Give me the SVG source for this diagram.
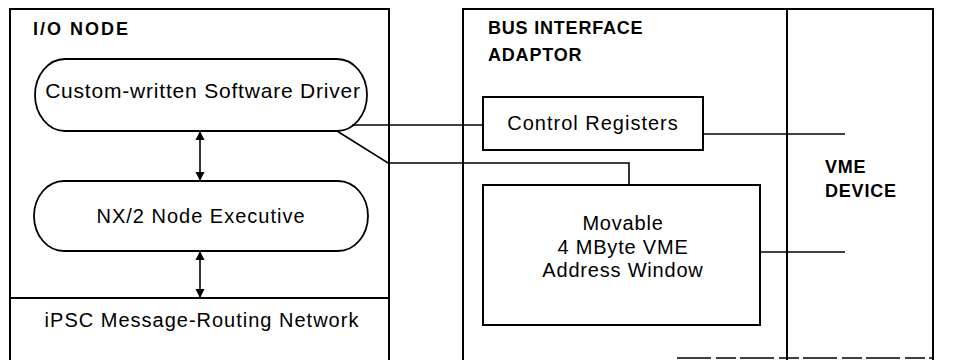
<svg xmlns="http://www.w3.org/2000/svg" width="959" height="360" viewBox="0 0 959 360">
<defs>
<marker id="ah" viewBox="0 0 10 10" refX="10" refY="5" markerWidth="9" markerHeight="10" markerUnits="userSpaceOnUse" orient="auto-start-reverse">
<path d="M0,0 L10,5 L0,10 z" fill="#000"/>
</marker>
<style>
.box{fill:none;stroke:#000;stroke-width:2}
.pill{fill:#fff;stroke:#000;stroke-width:1.8}
.ln{fill:none;stroke:#000;stroke-width:1.6}
.t{font-family:"Liberation Sans",Arial,sans-serif;font-size:20px;letter-spacing:1px;fill:#000;text-anchor:middle}
.h{font-family:"Liberation Sans",Arial,sans-serif;font-size:18px;font-weight:bold;letter-spacing:0.8px;fill:#000}
</style>
</defs>
<rect width="959" height="360" fill="#fff"/>
<g id="io-node">
<path class="box" d="M10,362 V9 H389 V362"/>
<text class="h" x="33" y="35" style="letter-spacing:2px">I/O NODE</text>
</g>
<g id="network">
<line class="box" x1="10" y1="298" x2="389" y2="298"/>
<text class="t" x="202" y="327">iPSC Message-Routing Network</text>
</g>
<g id="driver">
<rect class="pill" x="35" y="59" width="332" height="72" rx="30" ry="36"/>
<text class="t" x="203" y="98" style="font-size:21px;letter-spacing:0.8px">Custom-written Software Driver</text>
</g>
<g id="executive">
<rect class="pill" x="34" y="181" width="334" height="70" rx="30" ry="35"/>
<text class="t" x="201" y="223">NX/2 Node Executive</text>
</g>
<g id="bia">
<path class="box" d="M463,362 V9 H933 V362"/>
<text class="h" x="488" y="34">BUS INTERFACE</text>
<text class="h" x="488" y="61">ADAPTOR</text>
<path d="M677,358 H933" fill="none" stroke="#000" stroke-width="1.5" stroke-dasharray="34 5 20 4"/>
</g>
<g id="vme-device">
<line class="box" x1="787" y1="9" x2="787" y2="362"/>
<text class="h" x="825" y="173">VME</text>
<text class="h" x="825" y="197">DEVICE</text>
</g>
<g id="control-registers">
<rect class="box" x="483" y="97" width="220" height="53"/>
<text class="t" x="593" y="130">Control Registers</text>
</g>
<g id="address-window">
<rect class="box" x="483" y="185" width="277" height="140"/>
<text class="t" x="623" y="230" style="letter-spacing:0.8px">Movable</text>
<text class="t" x="623" y="254" style="letter-spacing:0.8px">4 MByte VME</text>
<text class="t" x="623" y="277" style="letter-spacing:0.8px">Address Window</text>
</g>
<g id="connectors">
<line class="ln" x1="200" y1="131" x2="200" y2="181" marker-start="url(#ah)" marker-end="url(#ah)"/>
<line class="ln" x1="200" y1="251" x2="200" y2="298" marker-start="url(#ah)" marker-end="url(#ah)"/>
<path class="ln" d="M352,125 H483"/>
<path class="ln" d="M337,131 L388,163 H629 V185"/>
<path class="ln" d="M703,134 H845"/>
<path class="ln" d="M760,252 H845"/>
</g>
</svg>
